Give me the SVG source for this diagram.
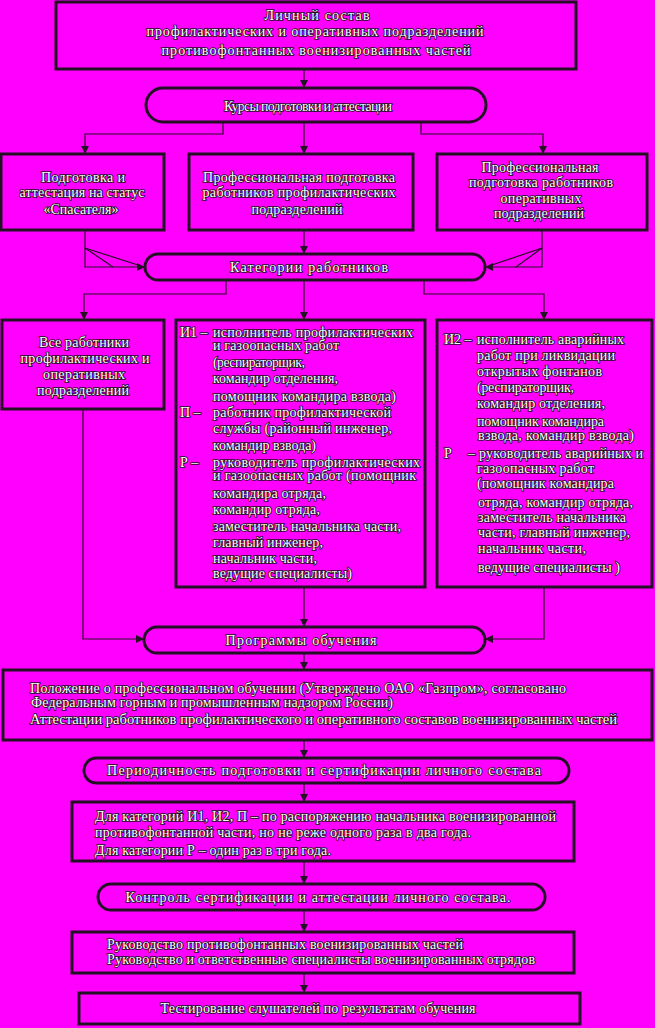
<svg xmlns="http://www.w3.org/2000/svg" width="655" height="1028" viewBox="0 0 655 1028">
<style>
.bg{fill:#ff00ff}
.box{fill:none;stroke:#241024;stroke-width:3}
.pill{fill:none;stroke:#241024;stroke-width:3}
.ln{fill:none;stroke:#241024;stroke-width:1.2}
text{font-family:"Liberation Serif","DejaVu Serif",serif;font-size:14px;fill:#ffffff;stroke:#1e0e1e;stroke-width:1.6;paint-order:stroke;}
.c{text-anchor:middle}
</style>
<defs>
<marker id="ah" markerUnits="userSpaceOnUse" markerWidth="9" markerHeight="9" refX="8" refY="4" orient="auto">
<path d="M0,0 L8,4 L0,8 z" fill="#241024"/>
</marker>
</defs>
<rect class="bg" x="0" y="0" width="655" height="1028"/>

<g id="connectors">
<line class="ln" x1="304" y1="69" x2="304" y2="88" marker-end="url(#ah)"/>
<polyline class="ln" points="223,122 223,134 85,134 85,154" marker-end="url(#ah)"/>
<line class="ln" x1="304" y1="122" x2="304" y2="154" marker-end="url(#ah)"/>
<polyline class="ln" points="421,122 421,134 543,134 543,154" marker-end="url(#ah)"/>
<polyline class="ln" points="85,230 85,267 145,267" marker-end="url(#ah)"/>
<line class="ln" x1="85" y1="248" x2="141" y2="266"/>
<line class="ln" x1="85" y1="248" x2="113" y2="267"/>
<line class="ln" x1="304" y1="230" x2="304" y2="254" marker-end="url(#ah)"/>
<polyline class="ln" points="542,230 542,267 485,267" marker-end="url(#ah)"/>
<line class="ln" x1="542" y1="248" x2="489" y2="266"/>
<line class="ln" x1="542" y1="248" x2="516" y2="267"/>
<polyline class="ln" points="226,280 226,294 84,294 84,320" marker-end="url(#ah)"/>
<line class="ln" x1="304" y1="280" x2="304" y2="320" marker-end="url(#ah)"/>
<polyline class="ln" points="424,280 424,294 544,294 544,320" marker-end="url(#ah)"/>
<polyline class="ln" points="83,409 83,639 144,639" marker-end="url(#ah)"/>
<line class="ln" x1="304" y1="587" x2="304" y2="627" marker-end="url(#ah)"/>
<polyline class="ln" points="544,587 544,639 485,639" marker-end="url(#ah)"/>
<line class="ln" x1="304" y1="653" x2="304" y2="670" marker-end="url(#ah)"/>
<line class="ln" x1="304" y1="740" x2="304" y2="758" marker-end="url(#ah)"/>
<line class="ln" x1="304" y1="783" x2="304" y2="802" marker-end="url(#ah)"/>
<line class="ln" x1="304" y1="861" x2="304" y2="884" marker-end="url(#ah)"/>
<line class="ln" x1="304" y1="910" x2="304" y2="932" marker-end="url(#ah)"/>
<line class="ln" x1="304" y1="973" x2="304" y2="993" marker-end="url(#ah)"/>
</g>

<g id="n-top">
<rect class="box" x="56" y="2" width="520" height="67"/>
<text class="c" x="317" y="20" textLength="105">Личный состав</text>
<text class="c" x="315" y="36" textLength="337">профилактических и оперативных подразделений</text>
<text class="c" x="316" y="55" textLength="309">противофонтанных военизированных частей</text>
</g>

<g id="n-kursy">
<rect class="pill" x="146" y="88" width="340" height="34" rx="17"/>
<text class="c" x="308" y="111" textLength="168">Курсы подготовки и аттестации</text>
</g>

<g id="n-spas">
<rect class="box" x="1" y="154" width="163" height="76"/>
<text class="c" x="83" y="182" textLength="84">Подготовка и</text>
<text class="c" x="82" y="197" textLength="125">аттестация на статус</text>
<text class="c" x="81" y="214" textLength="75">«Спасателя»</text>
</g>

<g id="n-prof">
<rect class="box" x="189" y="154" width="224" height="76"/>
<text class="c" x="299" y="182" textLength="192">Профессиональная подготовка</text>
<text class="c" x="299" y="197" textLength="193">работников профилактических</text>
<text class="c" x="297" y="214" textLength="91">подразделений</text>
</g>

<g id="n-oper">
<rect class="box" x="437" y="154" width="210" height="76"/>
<text class="c" x="540" y="172" textLength="117">Профессиональная</text>
<text class="c" x="541" y="187" textLength="144">подготовка работников</text>
<text class="c" x="541" y="203" textLength="81">оперативных</text>
<text class="c" x="539" y="218" textLength="90">подразделений</text>
</g>

<g id="n-kateg">
<rect class="pill" x="145" y="254" width="340" height="26" rx="13"/>
<text class="c" x="309" y="272" textLength="158">Категории работников</text>
</g>

<g id="n-vse">
<rect class="box" x="2" y="320" width="162" height="89"/>
<text class="c" x="84" y="347" textLength="90">Все работники</text>
<text class="c" x="85" y="363" textLength="129">профилактических и</text>
<text class="c" x="84" y="379" textLength="82">оперативных</text>
<text class="c" x="83" y="395" textLength="92">подразделений</text>
</g>

<g id="n-i1">
<rect class="box" x="176" y="320" width="249" height="267"/>
<text x="180" y="337">И1 –</text>
<text x="213" y="337" textLength="200">исполнитель профилактических</text>
<text x="213" y="350" textLength="126">и газоопасных работ</text>
<text x="213" y="367" textLength="92">(респираторщик,</text>
<text x="213" y="383" textLength="125">командир отделения,</text>
<text x="213" y="401" textLength="183">помощник командира взвода)</text>
<text x="180" y="417">П –</text>
<text x="213" y="417" textLength="178">работник профилактической</text>
<text x="213" y="433" textLength="179">службы (районный инженер,</text>
<text x="213" y="450" textLength="103">командир взвода)</text>
<text x="180" y="467">Р –</text>
<text x="213" y="467" textLength="207">руководитель профилактических</text>
<text x="213" y="480" textLength="203">и газоопасных работ (помощник</text>
<text x="213" y="498" textLength="113">командира отряда,</text>
<text x="213" y="514" textLength="107">командир отряда,</text>
<text x="213" y="531" textLength="188">заместитель начальника части,</text>
<text x="213" y="547" textLength="110">главный инженер,</text>
<text x="213" y="563" textLength="104">начальник части,</text>
<text x="213" y="578" textLength="139">ведущие специалисты)</text>
</g>

<g id="n-i2">
<rect class="box" x="437" y="320" width="215" height="267"/>
<text x="444" y="344">И2 –</text>
<text x="477" y="344" textLength="147">исполнитель аварийных</text>
<text x="477" y="360" textLength="138">работ при ликвидации</text>
<text x="477" y="376" textLength="125">открытых фонтанов</text>
<text x="477" y="392" textLength="97">(респираторщик,</text>
<text x="477" y="408" textLength="128">командир отделения,</text>
<text x="477" y="426" textLength="127">помощник командира</text>
<text x="478" y="440" textLength="156">взвода, командир взвода)</text>
<text x="444" y="458">Р</text>
<text x="468" y="458">–</text>
<text x="479" y="458" textLength="164">руководитель аварийных и</text>
<text x="477" y="473" textLength="117">газоопасных работ</text>
<text x="477" y="488" textLength="137">(помощник командира</text>
<text x="478" y="507" textLength="155">отряда, командир отряда,</text>
<text x="478" y="522" textLength="148">заместитель начальника</text>
<text x="478" y="537" textLength="152">части, главный инженер,</text>
<text x="478" y="553" textLength="108">начальник части,</text>
<text x="478" y="572" textLength="142">ведущие специалисты )</text>
</g>

<g id="n-prog">
<rect class="pill" x="144" y="627" width="341" height="26" rx="13"/>
<text class="c" x="301" y="645" textLength="151">Программы обучения</text>
</g>

<g id="n-polozh">
<rect class="box" x="3" y="670" width="649" height="70"/>
<text x="30" y="693" textLength="536">Положение о профессиональном обучении (Утверждено ОАО «Газпром», согласовано</text>
<text x="31" y="707" textLength="362">Федеральным горным и промышленным надзором России)</text>
<text x="30" y="724" textLength="587" lengthAdjust="spacingAndGlyphs">Аттестации работников профилактического и оперативного составов военизированных частей</text>
</g>

<g id="n-period">
<rect class="pill" x="84" y="758" width="485" height="25" rx="12.5"/>
<text class="c" x="324" y="775" textLength="434">Периодичность подготовки и сертификации личного состава</text>
</g>

<g id="n-cat">
<rect class="box" x="72" y="802" width="502" height="59"/>
<text x="95" y="821" textLength="461">Для категорий И1, И2, П – по распоряжению начальника военизированной</text>
<text x="95" y="837" textLength="376">противофонтанной части, но не реже одного раза в два года.</text>
<text x="95" y="855" textLength="236">Для категории Р – один раз в три года.</text>
</g>

<g id="n-kontrol">
<rect class="pill" x="98" y="884" width="447" height="26" rx="13"/>
<text class="c" x="318" y="902" textLength="385">Контроль сертификации и аттестации личного состава.</text>
</g>

<g id="n-ruk">
<rect class="box" x="72" y="932" width="502" height="41"/>
<text x="107" y="949" textLength="356">Руководство противофонтанных военизированных частей</text>
<text x="107" y="964" textLength="428">Руководство и ответственные специалисты военизированных отрядов</text>
</g>

<g id="n-test">
<rect class="box" x="79" y="993" width="501" height="31"/>
<text class="c" x="318" y="1013" textLength="315">Тестирование слушателей по результатам обучения</text>
</g>
</svg>
